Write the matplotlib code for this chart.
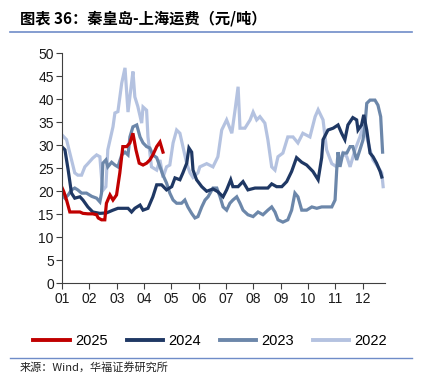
#!/usr/bin/env python3
"""Qinhuangdao-Shanghai coal freight rate, 2022-2025 seasonal comparison."""

import matplotlib
matplotlib.use("Agg")
import matplotlib.pyplot as plt
from matplotlib.lines import Line2D

plt.rcParams['font.family'] = ['Liberation Sans', 'Noto Sans CJK SC', 'DejaVu Sans']

# x positions are in months from 1 Jan (0 = "01")
x_2025 = [0.00, 0.06, 0.16, 0.28, 0.46, 0.65, 0.76, 0.94, 1.12, 1.26, 1.32, 1.44, 1.56, 1.62,
          1.75, 1.86, 1.99, 2.11, 2.22, 2.36, 2.48, 2.59, 2.70, 2.82, 2.96, 3.09, 3.21, 3.32,
          3.46, 3.58, 3.69]
y_2025 = [20.7, 19.9, 18.1, 15.5, 15.5, 15.5, 15.2, 15.1, 15.1, 14.9, 14.2, 13.8, 13.8, 17.4,
          19.2, 18.1, 19.2, 24.0, 29.7, 29.7, 30.5, 32.6, 29.0, 26.1, 25.7, 26.1, 26.8, 27.9,
          29.7, 30.7, 28.5]

x_2024 = [0.00, 0.10, 0.22, 0.34, 0.46, 0.65, 0.76, 0.94, 1.12, 1.38, 1.62, 1.86, 2.04, 2.22,
          2.41, 2.54, 2.66, 2.85, 2.96, 3.14, 3.32, 3.46, 3.64, 3.82, 4.01, 4.13, 4.31, 4.42,
          4.56, 4.64, 4.74, 4.79, 4.92, 5.11, 5.29, 5.52, 5.70, 5.89, 6.02, 6.17, 6.25, 6.44,
          6.62, 6.80, 7.06, 7.30, 7.53, 7.67, 7.85, 8.04, 8.22, 8.40, 8.58, 8.77, 8.95, 9.18,
          9.37, 9.50, 9.55, 9.73, 9.92, 10.10, 10.23, 10.35, 10.46, 10.64, 10.78, 10.83, 10.96,
          11.04, 11.15, 11.27, 11.38, 11.51, 11.64, 11.70]
y_2024 = [29.6, 29.0, 24.6, 19.6, 18.5, 18.8, 18.1, 16.6, 15.5, 15.2, 15.3, 15.9, 16.3, 16.3,
          16.3, 15.5, 16.3, 17.0, 15.9, 16.3, 18.8, 21.4, 21.4, 20.3, 21.0, 22.9, 22.5, 24.0,
          26.1, 29.4, 28.5, 24.6, 22.5, 21.0, 20.0, 20.5, 19.9, 18.8, 20.3, 22.5, 21.0, 21.0,
          22.1, 20.3, 20.7, 20.7, 20.7, 21.6, 21.0, 21.0, 22.1, 24.3, 27.3, 26.3, 25.7, 24.3,
          22.5, 27.3, 31.2, 33.3, 33.7, 34.4, 32.6, 31.2, 34.4, 36.0, 35.5, 33.3, 34.4,
          36.6, 33.3, 28.3, 27.5, 26.1, 24.3, 23.1]

x_2023 = [0.00, 0.10, 0.22, 0.34, 0.46, 0.57, 0.71, 0.89, 1.08, 1.26, 1.38, 1.44, 1.49, 1.60,
          1.67, 1.81, 1.93, 2.04, 2.18, 2.30, 2.41, 2.48, 2.59, 2.73, 2.85, 2.96, 3.09, 3.21,
          3.32, 3.46, 3.58, 3.69, 3.82, 3.94, 4.06, 4.19, 4.37, 4.49, 4.60, 4.74, 4.86, 4.97,
          5.11, 5.23, 5.34, 5.52, 5.66, 5.78, 5.89, 6.02, 6.14, 6.25, 6.39, 6.51, 6.62, 6.80,
          6.99, 7.17, 7.35, 7.53, 7.67, 7.79, 7.90, 8.08, 8.26, 8.40, 8.52, 8.63, 8.77, 8.95,
          9.14, 9.32, 9.50, 9.68, 9.87, 9.99, 10.05, 10.10, 10.17, 10.28, 10.42, 10.54, 10.64,
          10.78, 10.90, 11.01, 11.08, 11.15, 11.27, 11.45, 11.56, 11.66, 11.70, 11.73]
y_2023 = [19.2, 18.5, 19.2, 20.3, 20.7, 20.3, 19.6, 19.6, 18.9, 18.5, 17.7, 19.6, 26.1, 26.8,
          25.3, 26.3, 25.7, 25.3, 27.9, 28.5, 27.9, 31.8, 34.0, 34.4, 31.8, 30.5, 29.7, 29.4,
          27.9, 27.3, 25.3, 23.5, 21.8, 19.6, 18.1, 17.4, 17.4, 18.1, 16.6, 15.2, 14.2, 14.5,
          16.6, 18.1, 18.8, 20.7, 20.7, 18.8, 16.6, 15.9, 17.4, 18.1, 18.8, 17.4, 15.9, 14.9,
          14.5, 15.5, 14.9, 15.9, 16.6, 15.5, 13.8, 13.3, 13.8, 15.9, 19.6, 18.8, 15.9, 15.9,
          16.6, 16.3, 16.6, 16.6, 16.6, 18.1, 24.6, 28.5, 25.3, 28.3, 28.3, 29.7, 29.7,
          26.8, 29.0, 31.1, 34.0, 39.1, 39.8, 39.8, 38.7, 36.2, 31.8, 28.5]

x_2022 = [0.00, 0.16, 0.28, 0.46, 0.57, 0.71, 0.83, 0.94, 1.12, 1.26, 1.38, 1.44, 1.49, 1.60,
          1.67, 1.86, 1.93, 2.04, 2.18, 2.30, 2.41, 2.54, 2.59, 2.66, 2.77, 2.91, 2.96, 3.09,
          3.14, 3.27, 3.46, 3.58, 3.69, 3.82, 3.94, 4.06, 4.19, 4.31, 4.42, 4.56, 4.68, 4.79,
          4.97, 5.04, 5.29, 5.52, 5.70, 5.84, 6.02, 6.21, 6.33, 6.44, 6.51, 6.69, 6.88, 6.99,
          7.12, 7.24, 7.42, 7.53, 7.67, 7.79, 7.90, 8.08, 8.26, 8.45, 8.63, 8.81, 9.07, 9.26,
          9.37, 9.55, 9.68, 9.87, 10.05, 10.17, 10.28, 10.42, 10.54, 10.72, 10.90, 11.01,
          11.15, 11.27, 11.38, 11.56, 11.70, 11.75]
y_2022 = [32.2, 31.2, 28.3, 24.0, 23.5, 23.5, 25.3, 26.0, 27.2, 27.9, 27.5, 23.0, 20.2, 21.0,
          29.0, 34.0, 37.0, 37.3, 43.5, 46.8, 37.2, 43.5, 46.0, 40.5, 38.4, 34.8, 38.3, 37.6,
          31.8, 25.3, 24.6, 26.8, 23.0, 25.3, 25.7, 30.5, 33.3, 32.6, 29.7, 26.0, 24.0, 23.0,
          24.0, 25.3, 26.0, 25.3, 27.5, 33.3, 35.5, 32.6, 37.7, 42.7, 33.7, 33.7, 35.5, 37.2,
          35.5, 36.2, 34.8, 31.2, 25.3, 24.6, 27.5, 28.3, 31.8, 31.8, 30.5, 32.6, 31.8, 36.2,
          37.7, 35.5, 29.0, 26.0, 25.3, 26.8, 28.3, 27.5, 25.3, 29.0, 31.8, 34.0,
          31.8, 29.0, 26.8, 25.3, 24.0, 21.0]

month_labels = ['01', '02', '03', '04', '05', '06', '07', '08', '09', '10', '11', '12']
years = ['2025', '2024', '2023', '2022']
colors = ['#c00000', '#1f3864', '#6c87aa', '#b4c2e0']

fig = plt.figure(figsize=(4.23, 3.85), dpi=100)
ax = fig.add_axes([0.147, 0.264, 0.762, 0.598])

series = [(x_2022, y_2022), (x_2023, y_2023), (x_2024, y_2024), (x_2025, y_2025)]
for (xs, ys), c in zip(series, colors[::-1]):
    ax.plot(xs, ys, color=c, linewidth=2.3, solid_joinstyle='miter')

ax.set_xlim(0, 11.8)
ax.set_ylim(0, 50)
ax.set_yticks(range(0, 51, 5))
ax.set_xticks(range(12))
ax.set_xticklabels(month_labels)
for s in ['top', 'right']:
    ax.spines[s].set_visible(False)
for s in ['left', 'bottom']:
    ax.spines[s].set_color('#404040')
    ax.spines[s].set_linewidth(0.8)
ax.tick_params(axis='both', labelsize=10, length=4, width=0.8, color='#404040',
               labelcolor='#1a1a1a', pad=2)

handles = [Line2D([], [], color=c, linewidth=2.8) for c in colors]
fig.legend(handles, years, loc='center', bbox_to_anchor=(0.497, 0.115), ncol=4,
           frameon=False, fontsize=10.5, handlelength=2.5, handletextpad=0.35,
           columnspacing=1.3)

# title, rules and source
fig.text(0.047, 0.953, '图表 36：秦皇岛-上海运费（元/吨）', fontsize=11, fontweight='bold',
         va='center', ha='left', family=['Noto Sans CJK SC'])
fig.add_artist(Line2D([0.024, 0.975], [0.917, 0.917], color='#6f8cc8', linewidth=1.2))
fig.add_artist(Line2D([0.024, 0.975], [0.07, 0.07], color='#6f8cc8', linewidth=1.0))
fig.text(0.047, 0.045, '来源：Wind，华福证券研究所', fontsize=8, va='center', ha='left',
         color='#222222', family=['Noto Sans CJK SC', 'DejaVu Sans'])

fig.savefig('out.png', dpi=100)
